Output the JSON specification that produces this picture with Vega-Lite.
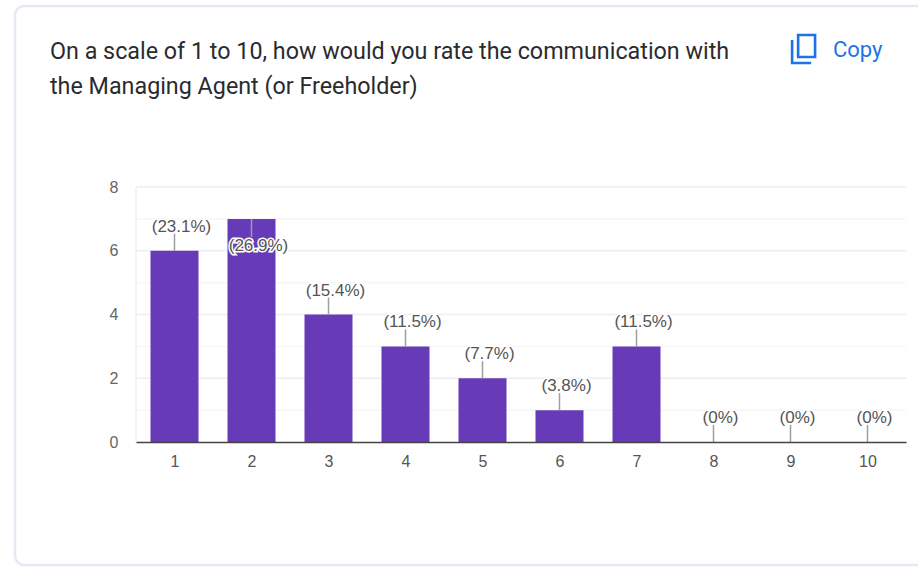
{
  "$schema": "https://vega.github.io/schema/vega-lite/v6.json",
  "width": 770,
  "height": 255,
  "autosize": "none",
  "padding": {"left": 136, "top": 187, "right": 12, "bottom": 129},
  "background": "#ffffff",
  "config": {"view": {"stroke": null}},
  "datasets": {
    "responses": [
      {"score": 1, "count": 6, "share": "(23.1%)"},
      {"score": 2, "count": 7, "share": "(26.9%)"},
      {"score": 3, "count": 4, "share": "(15.4%)"},
      {"score": 4, "count": 3, "share": "(11.5%)"},
      {"score": 5, "count": 2, "share": "(7.7%)"},
      {"score": 6, "count": 1, "share": "(3.8%)"},
      {"score": 7, "count": 3, "share": "(11.5%)"},
      {"score": 8, "count": 0, "share": "(0%)"},
      {"score": 9, "count": 0, "share": "(0%)"},
      {"score": 10, "count": 0, "share": "(0%)"}
    ],
    "gridLevels": [
      {"level": 1}, {"level": 2}, {"level": 3}, {"level": 4},
      {"level": 5}, {"level": 6}, {"level": 7}, {"level": 8}
    ],
    "single": [{"item": "chrome"}]
  },
  "layer": [
    {
      "description": "Card behind the whole question",
      "data": {"name": "single"},
      "mark": {"type": "rect", "fill": "#ffffff", "stroke": "#e9e7f4", "strokeWidth": 2.5, "cornerRadius": 9},
      "encoding": {
        "x": {"datum": -1.071, "type": "quantitative", "title": null, "scale": {"domain": [0.5, 10.5], "nice": false, "zero": false, "padding": 0}},
        "x2": {"datum": 10.75},
        "y": {"datum": 13.68, "type": "quantitative", "title": null, "scale": {"domain": [0, 8], "nice": false, "zero": false}},
        "y2": {"datum": -3.86}
      }
    },
    {
      "description": "Gridlines, heavier on the even levels",
      "data": {"name": "gridLevels"},
      "mark": {"type": "rule", "strokeWidth": 1.5},
      "encoding": {
        "x": {"datum": 0.5, "type": "quantitative", "title": null},
        "x2": {"datum": 10.5},
        "y": {"field": "level", "type": "quantitative", "title": null},
        "color": {"condition": {"test": "datum.level % 2 === 0", "value": "#eeeeee"}, "value": "#f6f6f6"}
      }
    },
    {
      "description": "Faint left edge of the plot",
      "data": {"name": "single"},
      "mark": {"type": "rule", "stroke": "#f1f1f1", "strokeWidth": 1.5},
      "encoding": {
        "x": {"datum": 0.5, "type": "quantitative", "title": null},
        "y": {"datum": 0, "type": "quantitative", "title": null},
        "y2": {"datum": 8}
      }
    },
    {
      "data": {"name": "responses"},
      "mark": {"type": "bar", "size": 48, "color": "#673ab7"},
      "encoding": {
        "x": {
          "field": "score",
          "type": "quantitative",
          "axis": {
            "title": null,
            "values": [1, 2, 3, 4, 5, 6, 7, 8, 9, 10],
            "format": "d",
            "grid": false,
            "ticks": false,
            "labelPadding": 11,
            "labelFont": "Liberation Sans",
            "labelFontSize": 16,
            "labelColor": "#555555",
            "domainColor": "#444444",
            "domainWidth": 1.5,
            "labelOverlap": false,
            "labelBound": false,
            "labelFlush": false,
            "zindex": 1
          }
        },
        "y": {
          "field": "count",
          "type": "quantitative",
          "axis": {
            "title": null,
            "values": [0, 2, 4, 6, 8],
            "format": "d",
            "grid": false,
            "ticks": false,
            "domain": false,
            "labelPadding": 18,
            "labelFont": "Liberation Sans",
            "labelFontSize": 16,
            "labelColor": "#666666",
            "zindex": 1
          }
        }
      }
    },
    {
      "description": "Leaders rising from the bars",
      "data": {"name": "responses"},
      "transform": [{"filter": "datum.count < 7"}],
      "mark": {"type": "rule", "stroke": "#9e9e9e", "strokeWidth": 1.5, "y2Offset": -17},
      "encoding": {
        "x": {"field": "score", "type": "quantitative", "title": null},
        "y": {"field": "count", "type": "quantitative", "title": null},
        "y2": {"field": "count"}
      }
    },
    {
      "description": "The tallest bar has no room above it, so its leader drops into the bar",
      "data": {"name": "responses"},
      "transform": [{"filter": "datum.count === 7"}],
      "mark": {"type": "rule", "stroke": "#9e9e9e", "strokeWidth": 1.5, "y2Offset": 18},
      "encoding": {
        "x": {"field": "score", "type": "quantitative", "title": null},
        "y": {"field": "count", "type": "quantitative", "title": null},
        "y2": {"field": "count"}
      }
    },
    {
      "description": "White halo under the share labels",
      "data": {"name": "responses"},
      "transform": [{"filter": "datum.count < 7"}],
      "mark": {"type": "text", "font": "Liberation Sans", "fontSize": 17, "dx": 7, "dy": -24, "stroke": "#ffffff", "strokeWidth": 3, "fill": "#ffffff"},
      "encoding": {
        "x": {"field": "score", "type": "quantitative", "title": null},
        "y": {"field": "count", "type": "quantitative", "title": null},
        "text": {"field": "share"}
      }
    },
    {
      "data": {"name": "responses"},
      "transform": [{"filter": "datum.count === 7"}],
      "mark": {"type": "text", "font": "Liberation Sans", "fontSize": 17, "dx": 7, "dy": 27, "stroke": "#ffffff", "strokeWidth": 3, "fill": "#ffffff"},
      "encoding": {
        "x": {"field": "score", "type": "quantitative", "title": null},
        "y": {"field": "count", "type": "quantitative", "title": null},
        "text": {"field": "share"}
      }
    },
    {
      "description": "Share labels",
      "data": {"name": "responses"},
      "transform": [{"filter": "datum.count < 7"}],
      "mark": {"type": "text", "font": "Liberation Sans", "fontSize": 17, "dx": 7, "dy": -24, "fill": "#555555"},
      "encoding": {
        "x": {"field": "score", "type": "quantitative", "title": null},
        "y": {"field": "count", "type": "quantitative", "title": null},
        "text": {"field": "share"}
      }
    },
    {
      "data": {"name": "responses"},
      "transform": [{"filter": "datum.count === 7"}],
      "mark": {"type": "text", "font": "Liberation Sans", "fontSize": 17, "dx": 7, "dy": 27, "fill": "#555555"},
      "encoding": {
        "x": {"field": "score", "type": "quantitative", "title": null},
        "y": {"field": "count", "type": "quantitative", "title": null},
        "text": {"field": "share"}
      }
    },
    {
      "description": "The question, in two lines",
      "data": {"name": "single"},
      "mark": {
        "type": "text",
        "text": ["On a scale of 1 to 10, how would you rate the communication with", "the Managing Agent (or Freeholder)"],
        "font": "Roboto",
        "fontSize": 23.3,
        "lineHeight": 35,
        "fill": "#2b2b2e",
        "align": "left",
        "baseline": "alphabetic"
      },
      "encoding": {
        "x": {"datum": -0.617, "type": "quantitative", "title": null},
        "y": {"datum": 12.016, "type": "quantitative", "title": null}
      }
    },
    {
      "description": "Copy icon: a page with a second page peeking out behind it",
      "data": {"name": "single"},
      "mark": {
        "type": "point",
        "filled": false,
        "size": 784,
        "strokeWidth": 2.6,
        "opacity": 1,
        "color": "#1a73e8",
        "shape": "M-0.39,-1H0.82V0.57H-0.39Z M-0.82,-0.64V1H0.54"
      },
      "encoding": {
        "x": {"datum": 9.17, "type": "quantitative", "title": null},
        "y": {"datum": 12.33, "type": "quantitative", "title": null}
      }
    },
    {
      "data": {"name": "single"},
      "mark": {"type": "text", "text": "Copy", "font": "Roboto", "fontSize": 22, "fill": "#1a73e8", "align": "left", "baseline": "middle"},
      "encoding": {
        "x": {"datum": 9.552, "type": "quantitative", "title": null},
        "y": {"datum": 12.3, "type": "quantitative", "title": null}
      }
    }
  ]
}
